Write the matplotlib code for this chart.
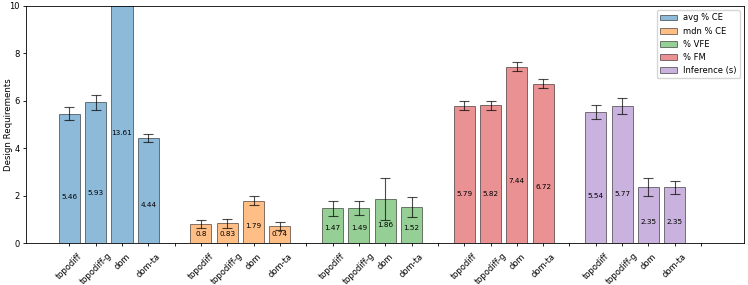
import matplotlib
matplotlib.use("Agg")
import matplotlib.pyplot as plt
import numpy as np

metrics = ["avg % CE", "mdn % CE", "% VFE", "% FM", "Inference (s)"]
models = ["topodiff", "topodiff-g", "dom", "dom-ta"]
colors = ["tab:blue", "tab:orange", "tab:green", "tab:red", "tab:purple"]

avg_ce = [5.46, 5.93, 13.61, 4.44]
avg_ce_err = [0.28, 0.33, 0.30, 0.17]
mdn_ce = [0.8, 0.83, 1.79, 0.74]
mdn_ce_err = [0.18, 0.20, 0.18, 0.17]
vfe = [1.47, 1.49, 1.86, 1.52]
vfe_err = [0.32, 0.29, 0.89, 0.43]
fm = [5.79, 5.82, 7.44, 6.72]
fm_err = [0.19, 0.19, 0.18, 0.19]
inference = [5.54, 5.77, 2.35, 2.35]
inference_err = [0.29, 0.33, 0.38, 0.27]

values = [avg_ce, mdn_ce, vfe, fm, inference]
errors = [avg_ce_err, mdn_ce_err, vfe_err, fm_err, inference_err]

fig, ax = plt.subplots(figsize=(7.48, 2.85), dpi=100)

tick_pos = []
tick_lbl = []
pos = 0
for metric, vals, errs, c in zip(metrics, values, errors, colors):
    x = np.arange(pos, pos + len(vals))
    ax.bar(x, vals, yerr=errs, color=c, edgecolor="black", alpha=0.5, linewidth=0.7,
           capsize=3.6, error_kw=dict(ecolor="black", alpha=0.7, elinewidth=0.8, capthick=0.8),
           label=metric)
    for xi, v in zip(x, vals):
        ax.text(xi, v / 3, str(v), ha="center", va="bottom", fontsize=5.2)
    # empty spacer slot after each group
    ax.bar(pos + len(vals), 0, color=c, edgecolor="black", alpha=0.5, linewidth=0.7)
    tick_pos += list(x) + [pos + len(vals)]
    tick_lbl += models + [""]
    pos += len(vals) + 1

ax.set_xticks(tick_pos)
ax.set_xticklabels(tick_lbl, rotation=45, fontsize=6)
ax.tick_params(axis="y", labelsize=6, width=0.6, length=2.5, pad=2)
ax.tick_params(axis="x", width=0.6, length=2.5)
for sp in ax.spines.values():
    sp.set_linewidth(0.6)
ax.set_ylim(0, 10)
ax.set_ylabel("Design Requirements", fontsize=6.2)
ax.yaxis.set_label_coords(-0.019, 0.5)
ax.legend(loc="upper right", fontsize=6)

plt.subplots_adjust(left=0.035, right=0.995, top=0.979, bottom=0.147)
plt.savefig("out.png")
